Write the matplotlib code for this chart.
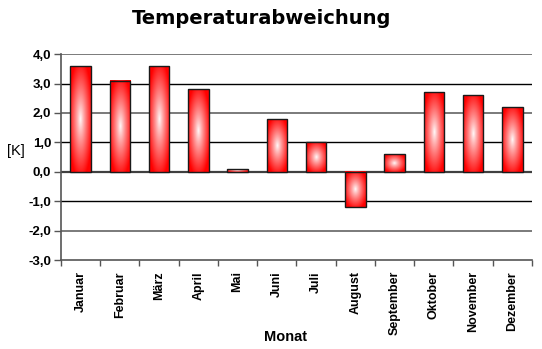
import matplotlib.pyplot as plt
import numpy as np
from matplotlib.ticker import FuncFormatter, FixedLocator

monate = ["Januar", "Februar", "März", "April", "Mai", "Juni", "Juli",
          "August", "September", "Oktober", "November", "Dezember"]
abweichung = [3.6, 3.1, 3.6, 2.8, 0.1, 1.8, 1.0, -1.2, 0.6, 2.7, 2.6, 2.2]
y_ticks = [-3.0, -2.0, -1.0, 0.0, 1.0, 2.0, 3.0, 4.0]

plt.rcParams['font.family'] = ['Liberation Sans', 'DejaVu Sans']

fig = plt.figure(figsize=(5.42, 3.49), dpi=100)
ax = fig.add_axes([0.1125, 0.255, 0.869, 0.59])

x = np.arange(len(monate))
bar_w = 0.52

# radial white-to-red fill, used inside every bar
n = 200
gx, gy = np.meshgrid(np.linspace(-1, 1, n), np.linspace(-1, 1, n))
r = np.clip(np.sqrt(gx**2 + gy**2) / 1.15, 0, 1)
t = r**0.85
grad = np.zeros((n, n, 3))
grad[..., 0] = 1.0
grad[..., 1] = 1.0 - t
grad[..., 2] = 1.0 - t

bars = ax.bar(x, abweichung, width=bar_w, facecolor='none',
              edgecolor='#1a1a1a', linewidth=1.0, zorder=4)
for b in bars:
    x0, y0 = b.get_x(), b.get_y()
    w, h = b.get_width(), b.get_height()
    ax.imshow(grad, extent=(x0, x0 + w, y0, y0 + h), aspect='auto',
              interpolation='bilinear', zorder=3)

ax.set_xlim(-0.5, len(monate) - 0.5)
ax.set_ylim(-3.0, 4.0)

# horizontal grid lines
for v in y_ticks[1:]:
    if v == 0:
        ax.axhline(v, color='#404040', lw=1.6, zorder=2)
    elif int(v) % 2 == 0:
        ax.axhline(v, color='#7a7a7a', lw=1.4, zorder=2)
    else:
        ax.axhline(v, color='black', lw=1.0, zorder=2)

ax.set_yticks(y_ticks)
ax.yaxis.set_major_formatter(FuncFormatter(lambda v, p: f"{v:.1f}".replace('.', ',')))
ax.tick_params(axis='y', direction='out', length=5, width=1, color='#555555',
               labelsize=9.5, pad=2)
for lbl in ax.get_yticklabels():
    lbl.set_fontweight('bold')

ax.set_xticks(x)
ax.set_xticklabels(monate, rotation=90, fontsize=9, fontweight='bold', va='top')
ax.tick_params(axis='x', which='major', length=0, pad=8)
ax.xaxis.set_minor_locator(FixedLocator(np.arange(-0.5, len(monate), 1.0)))
ax.tick_params(axis='x', which='minor', direction='out', length=4, width=1,
               color='#555555')

for side in ['top', 'right']:
    ax.spines[side].set_visible(False)
ax.spines['left'].set_color('#555555')
ax.spines['left'].set_linewidth(1.2)
ax.spines['bottom'].set_color('#555555')
ax.spines['bottom'].set_linewidth(1.2)

ax.set_ylabel("[K]", rotation=0, fontsize=10.5, ha='center', va='center')
ax.yaxis.set_label_coords(-0.096, 0.53)
fig.text(0.527, 0.022, "Monat", ha='center', fontsize=10.5, fontweight='bold')

fig.text(0.482, 0.948, "Temperaturabweichung", ha='center', va='center',
         fontsize=14, fontweight='bold', family='DejaVu Sans')

fig.savefig("out.png", dpi=100, facecolor='white')
